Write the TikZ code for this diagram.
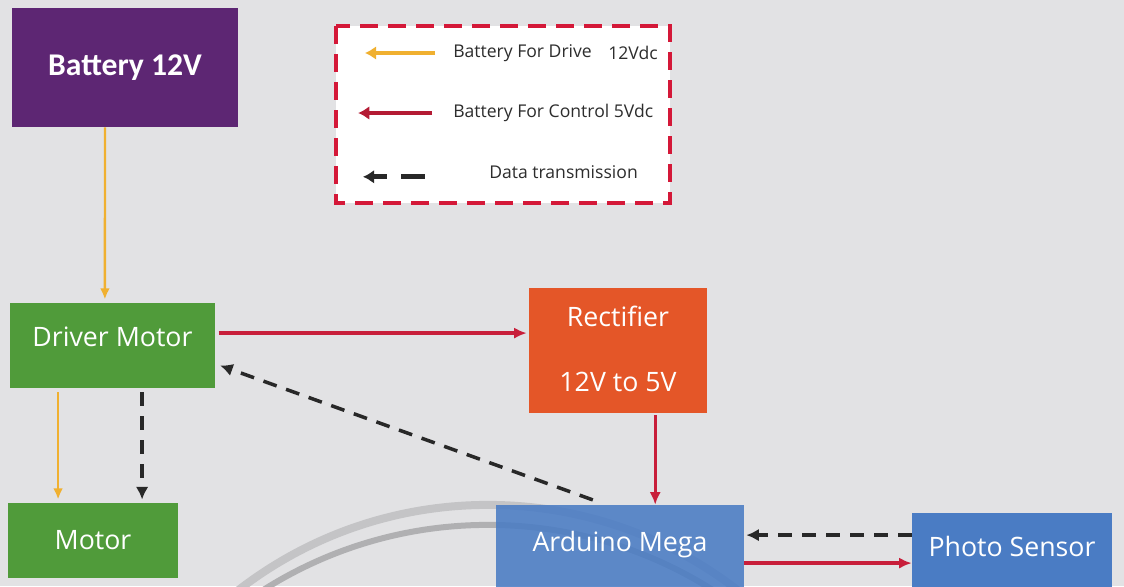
\documentclass[tikz,border=0pt]{standalone}
\usepackage{fontspec}
\setmainfont{Open Sans}
\newfontfamily\batfont{Carlito}
\usetikzlibrary{arrows.meta,positioning,calc}
\definecolor{fondo}   {RGB}{226,226,228}
\definecolor{morado}  {RGB}{93, 38,115}
\definecolor{verde}   {RGB}{80,155, 58}
\definecolor{naranja} {RGB}{228, 86, 40}
\definecolor{azul}    {RGB}{74,124,196}
\definecolor{rojo}    {RGB}{200, 30, 58}
\definecolor{amarillo}{RGB}{240,176, 48}
\definecolor{negro}   {RGB}{40, 40, 40}
\definecolor{rojoleg} {RGB}{212, 24, 56}
\definecolor{texto}   {RGB}{45, 45, 45}
\definecolor{arco}    {RGB}{196,196,198}
\tikzset{
  caja/.style={fill=#1,text=white,font=\fontsize{19}{22}\selectfont,
               inner sep=0pt,align=center},
  drive/.style={amarillo,line width=1.7pt,-{Latex[length=8pt,width=7pt]}},
  control/.style={rojo,line width=2.4pt,-{Latex[length=9pt,width=8pt]}},
  datos/.style={negro,line width=2.5pt,dash pattern=on 0.35cm off 0.25cm,
                -{Latex[length=9pt,width=9pt]}},
  leyenda/.style={text=texto,font=\fontsize{12.5}{14}\selectfont,anchor=west,inner sep=0pt}
}

\begin{document}
\begin{tikzpicture}[x=0.025cm,y=-0.025cm]
\useasboundingbox (0,0) rectangle (1124,586);
\clip (0,0) rectangle (1124,586);
\fill[fondo] (0,0) rectangle (1124,586);
% arcos del fondo
\draw[arco,line width=0.2cm] (488,913) circle[radius=10.2cm];
\draw[arco!90!black,line width=0.15cm] (488,945) circle[radius=10.5cm];

% bloques
\node[caja=morado,minimum width=5.65cm,minimum height=2.975cm,
      font=\batfont\bfseries\fontsize{22.5}{26}\selectfont] (battery) at (125,67.5) {Battery 12V};
\node[caja=verde,minimum width=5.125cm,minimum height=2.125cm,text depth=0.45cm] (driver) at (112.5,345.5) {Driver Motor};
\node[caja=verde,minimum width=4.25cm,minimum height=1.875cm] (motor) at (93,540.5) {Motor};
\node[caja=naranja,minimum width=4.45cm,minimum height=3.125cm,text depth=0.1cm] (rectifier) at (618,350.5) {Rectifier\\[0.85cm]12V to 5V};
\node[caja=azul,fill opacity=0.88,text opacity=1,minimum width=6.2cm,minimum height=2.125cm,text depth=0.3cm] (arduino) at (620,547.5) {Arduino Mega};
\node[caja=azul,minimum width=5cm,minimum height=1.925cm,text depth=0.25cm] (sensor) at (1012,551.5) {Photo Sensor};

% conexiones
\draw[drive] ([xshift=-0.5cm]battery.south) -- ([xshift=-0.19cm,yshift=0.08cm]driver.north);
\draw[control] ([xshift=0.08cm,yshift=0.31cm]driver.east) -- ([xshift=-0.05cm,yshift=0.31cm]driver.east -| rectifier.west);
\draw[datos] ([xshift=-0.68cm,yshift=0.12cm]arduino.north) -- ([xshift=0.12cm,yshift=-0.5cm]driver.east);
\draw[drive] ([xshift=-1.36cm,yshift=-0.1cm]driver.south) -- ([xshift=-1.36cm,yshift=0.08cm]driver.south |- motor.north);
\draw[datos] ([xshift=0.74cm,yshift=-0.1cm]driver.south) -- ([xshift=0.74cm,yshift=0.08cm]driver.south |- motor.north);
\draw[control] ([xshift=0.93cm,yshift=-0.05cm]rectifier.south) -- ([xshift=0.93cm]rectifier.south |- arduino.north);
\draw[datos] ([yshift=0.41cm]sensor.west) -- ([xshift=0.05cm,yshift=0.41cm]sensor.west -| arduino.east);
\draw[control] ([yshift=-0.39cm]arduino.east) -- ([yshift=-0.39cm]arduino.east -| sensor.west);

% leyenda
\draw[rojoleg,fill=white,line width=1mm,dash pattern=on 0.45cm off 0.25cm] (336,26) rectangle (670,203);
\node[leyenda] (legdrive) at (453,53) {Battery For Drive};
\node[leyenda] (legvdc) at (608,53) {12Vdc};
\node[leyenda] (legcontrol) at (453,113) {Battery For Control 5Vdc};
\node[leyenda] (legdata) at (489,172) {Data transmission};
\draw[amarillo,line width=3.5pt,-{Latex[length=8pt,width=10pt]}] ([xshift=-0.45cm]legdrive.west) -- ++(-1.75cm,0);
\draw[rojo!90!black,line width=3.5pt,-{Latex[length=8pt,width=10pt]}] ([xshift=-0.52cm]legcontrol.west) -- ++(-1.85cm,0);
\draw[negro,line width=3.5pt,dash pattern=on 0.6cm off 0.35cm on 0.5cm,-{Latex[length=8pt,width=10pt]}] ([xshift=-1.6cm,yshift=-0.12cm]legdata.west) -- ++(-1.55cm,0);
\end{tikzpicture}
\end{document}
